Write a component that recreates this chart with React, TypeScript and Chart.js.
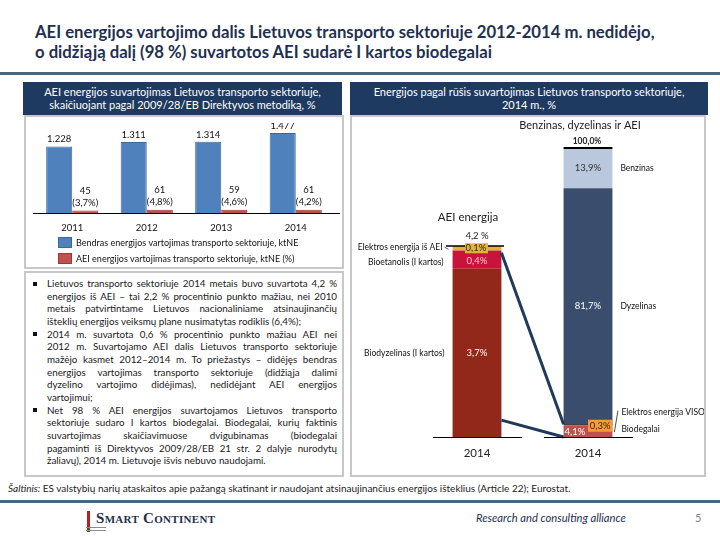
import React, { useEffect, useRef } from 'react';
import { Chart, registerables } from 'chart.js';

Chart.register(...registerables);

const FONT = 'Lato, "Open Sans", sans-serif';
const NAVY = '#1F3A60';
const TEXT_NAVY = '#1F3050';

// ---------- Left chart data ----------
const years = ['2011', '2012', '2013', '2014'];
const totalEnergy = [1228, 1311, 1314, 1477];
const aeiEnergy = [45, 61, 59, 61];
const aeiSharePct = [3.7, 4.8, 4.6, 4.2];
const leftLegend = [
  'Bendras energijos vartojimas transporto sektoriuje, ktNE',
  'AEI energijos vartojimas transporto sektoriuje, ktNE (%)',
];
const leftColors = ['#4F81BD', '#C0504D'];
const leftBorders = ['#3B6898', '#983B38'];

// ---------- Right chart data ----------
const rightCats = ['AEI energija', 'Benzinas, dyzelinas ir AEI'];
const rightYear = '2014';
const aeiParts = ['Biodyzelinas (I kartos)', 'Bioetanolis (I kartos)', 'Elektros energija iš AEI'];
const aeiValues = [3.7, 0.4, 0.1];
const aeiTotal = 4.2;
const aeiColors = ['#922819', '#C8143C', '#E2B33C'];
const mixParts = ['Biodegalai', 'Elektros energija VISO', 'Dyzelinas', 'Benzinas'];
const mixValues = [4.1, 0.3, 81.7, 13.9];
const mixTotal = 100.0;
const mixColors = ['#C0504D', '#111111', '#3A4D6C', '#B9C8DC'];
const connectorFrom = [4.05, 0.37]; // values on AEI axis
const connectorTo = [4.4, 0]; // values on mix axis

const fmt = (v: number, d = 1) => v.toFixed(d).replace('.', ',');
const fmtThousands = (v: number) => String(v).replace(/\B(?=(\d{3})+(?!\d))/g, '.');

const bulletParas: string[][] = [
  [
    'Lietuvos transporto sektoriuje 2014 metais buvo suvartota 4,2 %',
    'energijos iš AEI – tai 2,2 % procentinio punkto mažiau, nei 2010',
    'metais patvirtintame Lietuvos nacionaliniame atsinaujinančių',
    'išteklių energijos veiksmų plane nusimatytas rodiklis (6,4%);',
  ],
  [
    '2014 m. suvartota 0,6 % procentinio punkto  mažiau AEI nei',
    '2012 m. Suvartojamo AEI dalis Lietuvos transporto sektoriuje',
    'mažėjo kasmet 2012–2014 m. To priežastys – didėjęs bendras',
    'energijos vartojimas transporto sektoriuje (didžiąja dalimi',
    'dyzelino vartojimo didėjimas), nedidėjant AEI energijos',
    'vartojimui;',
  ],
  [
    'Net 98 % AEI energijos suvartojamos Lietuvos transporto',
    'sektoriuje sudaro I kartos biodegalai. Biodegalai, kurių faktinis',
    'suvartojimas skaičiavimuose dvigubinamas (biodegalai',
    'pagaminti iš Direktyvos 2009/28/EB 21 str. 2 dalyje nurodytų',
    'žaliavų), 2014 m. Lietuvoje išvis nebuvo naudojami.',
  ],
];

const leftPlugin = {
  id: 'leftDecor',
  afterDatasetsDraw(chart: any) {
    const { ctx, chartArea, scales } = chart;
    const xs = scales.x;
    const ys = scales.y;
    const base = Math.round(ys.getPixelForValue(0)) + 0.5;
    ctx.save();
    ctx.strokeStyle = '#000';
    ctx.lineWidth = 1;
    ctx.beginPath();
    ctx.moveTo(chartArea.left - 2, base);
    ctx.lineTo(chartArea.right + 7, base);
    ctx.stroke();

    ctx.fillStyle = '#111';
    ctx.textAlign = 'center';
    ctx.textBaseline = 'middle';
    ctx.font = `9.5px ${FONT}`;
    const m0 = chart.getDatasetMeta(0);
    const m1 = chart.getDatasetMeta(1);
    m0.data.forEach((bar: any, i: number) => {
      ctx.fillText(fmtThousands(totalEnergy[i]), bar.x, bar.y - 7);
    });
    m1.data.forEach((bar: any, i: number) => {
      ctx.fillText(String(aeiEnergy[i]), bar.x, bar.y - 20);
      ctx.fillText(`(${fmt(aeiSharePct[i])}%)`, bar.x, bar.y - 8);
    });
    years.forEach((yr, i) => {
      ctx.fillText(yr, xs.getPixelForValue(i), base + 14);
    });

    // legend
    ctx.textAlign = 'left';
    ctx.font = `9px ${FONT}`;
    leftLegend.forEach((txt, i) => {
      const top = 114 + i * 16;
      ctx.fillStyle = leftColors[i];
      ctx.fillRect(33, top, 14, 11);
      ctx.strokeStyle = leftBorders[i];
      ctx.strokeRect(33.5, top + 0.5, 13, 10);
      ctx.fillStyle = '#111';
      ctx.fillText(txt, 51, top + 6);
    });
    ctx.restore();
  },
};

const rightPlugin = {
  id: 'rightDecor',
  afterDatasetsDraw(chart: any) {
    const { ctx, scales } = chart;
    const yM = scales.y;
    const yA = scales.y2;
    const nA = aeiValues.length;
    const aBars = aeiValues.map((_, i) => chart.getDatasetMeta(i).data[0]);
    const mBars = mixValues.map((_, i) => chart.getDatasetMeta(nA + i).data[1]);
    const cxA = aBars[0].x;
    const wA = aBars[0].width;
    const cxM = mBars[0].x;
    const wM = mBars[0].width;
    const base = Math.round(yM.getPixelForValue(0)) + 0.5;
    const mid = (b: any) => (b.y + b.base) / 2;
    const topA = yA.getPixelForValue(aeiTotal);
    const topM = yM.getPixelForValue(mixTotal);

    ctx.save();
    // connectors
    ctx.strokeStyle = '#203A5C';
    ctx.lineWidth = 3;
    for (let k = 0; k < 2; k++) {
      ctx.beginPath();
      ctx.moveTo(cxA + wA / 2, yA.getPixelForValue(connectorFrom[k]));
      ctx.lineTo(cxM - wM / 2, yM.getPixelForValue(connectorTo[k]));
      ctx.stroke();
    }

    // baselines
    ctx.strokeStyle = '#000';
    ctx.lineWidth = 1;
    [cxA, cxM].forEach((cx) => {
      ctx.beginPath();
      ctx.moveTo(cx - 44, base);
      ctx.lineTo(cx + 45, base);
      ctx.stroke();
    });
    // top lines
    ctx.lineWidth = 1.5;
    ctx.beginPath();
    ctx.moveTo(cxA - 31, topA);
    ctx.lineTo(cxA + 27, topA);
    ctx.stroke();
    ctx.lineWidth = 2;
    ctx.beginPath();
    ctx.moveTo(cxM - wM / 2, topM);
    ctx.lineTo(cxM + wM / 2, topM);
    ctx.stroke();

    ctx.textBaseline = 'middle';
    ctx.textAlign = 'center';
    // year labels
    ctx.fillStyle = '#222';
    ctx.font = `11.5px ${FONT}`;
    ctx.fillText(rightYear, cxA, base + 16);
    ctx.fillText(rightYear, cxM, base + 16);

    // category titles
    ctx.font = `11.5px ${FONT}`;
    ctx.fillText(rightCats[0], cxA - 9, topA - 29);
    ctx.font = `11px ${FONT}`;
    ctx.fillText(rightCats[1], cxM - 8, topM - 23);
    ctx.font = `9.5px ${FONT}`;
    ctx.fillText(`${fmt(aeiTotal)} %`, cxA, topA - 10);
    ctx.font = `bold 8.5px ${FONT}`;
    ctx.fillText(`${fmt(mixTotal)}%`, cxM - 1, topM - 7);

    // AEI bar labels
    ctx.font = `9.5px ${FONT}`;
    const g = aBars[2];
    ctx.fillStyle = '#E2B33C';
    ctx.fillRect(cxA - 12, mid(g) - 5, 23, 10);
    ctx.fillStyle = '#3A2A10';
    ctx.fillText(`${fmt(aeiValues[2])}%`, cxA - 1, mid(g));
    ctx.fillStyle = '#F6C9D2';
    ctx.fillText(`${fmt(aeiValues[1])}%`, cxA, mid(aBars[1]) + 1);
    ctx.fillStyle = '#FFFFFF';
    ctx.fillText(`${fmt(aeiValues[0])}%`, cxA, mid(aBars[0]));

    // AEI side labels
    ctx.fillStyle = '#111';
    ctx.font = `8.5px ${FONT}`;
    ctx.textAlign = 'right';
    const lx = cxA - wA / 2 - 8;
    ctx.fillText(aeiParts[2], lx - 2, mid(g) - 1);
    ctx.fillText(aeiParts[1], lx - 1, mid(aBars[1]) + 3);
    ctx.fillText(aeiParts[0], lx, mid(aBars[0]));
    ctx.strokeStyle = '#333';
    ctx.lineWidth = 0.8;
    ctx.beginPath();
    ctx.moveTo(lx, mid(g) - 1);
    ctx.lineTo(lx + 4, mid(g) + 1);
    ctx.stroke();

    // mix bar labels
    ctx.textAlign = 'center';
    ctx.font = `9.5px ${FONT}`;
    ctx.fillStyle = '#333';
    ctx.fillText(`${fmt(mixValues[3])}%`, cxM, mid(mBars[3]));
    ctx.fillStyle = '#FFFFFF';
    ctx.fillText(`${fmt(mixValues[2])}%`, cxM, mid(mBars[2]));
    ctx.fillText(`${fmt(mixValues[0])}%`, cxM - 13, mid(mBars[0]) + 1);
    const e = mBars[1];
    ctx.fillStyle = '#F79A3A';
    ctx.fillRect(cxM, mid(e) - 5, wM / 2, 12);
    ctx.fillStyle = '#3A2A10';
    ctx.fillText(`${fmt(mixValues[1])}%`, cxM + wM / 4, mid(e) + 1.5);

    // mix side labels
    ctx.textAlign = 'left';
    ctx.fillStyle = '#111';
    ctx.font = `8.5px ${FONT}`;
    const rx = cxM + wM / 2 + 8;
    ctx.fillText(mixParts[3], rx, mid(mBars[3]));
    ctx.fillText(mixParts[2], rx, mid(mBars[2]));
    ctx.fillText(mixParts[1], rx + 1, mid(e) - 12);
    ctx.fillText(mixParts[0], rx + 1, mid(mBars[0]) - 2);
    ctx.strokeStyle = '#222';
    ctx.lineWidth = 0.8;
    ctx.beginPath();
    ctx.moveTo(rx - 6, mid(mBars[0]) + 1);
    ctx.lineTo(rx - 2.5, mid(e) - 14);
    ctx.stroke();
    ctx.restore();
  },
};

function LeftChart() {
  const ref = useRef<HTMLCanvasElement>(null);
  useEffect(() => {
    const chart = new Chart(ref.current as HTMLCanvasElement, {
      type: 'bar',
      data: {
        labels: years,
        datasets: [
          { label: leftLegend[0], data: totalEnergy, backgroundColor: leftColors[0], borderColor: leftBorders[0], borderWidth: 1 },
          { label: leftLegend[1], data: aeiEnergy, backgroundColor: leftColors[1], borderColor: leftBorders[1], borderWidth: 1 },
        ],
      },
      options: {
        responsive: false,
        animation: false,
        devicePixelRatio: 1,
        layout: { padding: { left: 10, right: 10, top: 0, bottom: 55 } },
        datasets: { bar: { categoryPercentage: 0.7, barPercentage: 1 } },
        scales: {
          x: { display: false },
          y: { display: false, min: 0, max: 1660 },
        },
        plugins: { legend: { display: false }, tooltip: { enabled: false } },
      } as any,
      plugins: [leftPlugin],
    });
    return () => chart.destroy();
  }, []);
  return (
    <canvas
      ref={ref}
      width={318}
      height={145}
      style={{ position: 'absolute', left: 25, top: 123, width: 318, height: 145 }}
    />
  );
}

function RightChart() {
  const ref = useRef<HTMLCanvasElement>(null);
  useEffect(() => {
    const chart = new Chart(ref.current as HTMLCanvasElement, {
      type: 'bar',
      data: {
        labels: rightCats,
        datasets: [
          ...aeiParts.map((p, i) => ({
            label: p,
            data: [aeiValues[i], null],
            backgroundColor: aeiColors[i],
            yAxisID: 'y2',
            stack: 's',
          })),
          ...mixParts.map((p, i) => ({
            label: p,
            data: [null, mixValues[i]],
            backgroundColor: mixColors[i],
            yAxisID: 'y',
            stack: 's',
          })),
        ],
      },
      options: {
        responsive: false,
        animation: false,
        devicePixelRatio: 1,
        layout: { padding: { left: 69.5, right: 60.5, top: 31, bottom: 38 } },
        datasets: { bar: { categoryPercentage: 0.44, barPercentage: 1, skipNull: true } },
        scales: {
          x: { display: false, stacked: true },
          y: { display: false, stacked: true, min: 0, max: 100 },
          y2: { display: false, stacked: true, min: 0, max: 6.355, position: 'right' },
        },
        plugins: { legend: { display: false }, tooltip: { enabled: false } },
      } as any,
      plugins: [rightPlugin],
    });
    return () => chart.destroy();
  }, []);
  return (
    <canvas
      ref={ref}
      width={352}
      height={358}
      style={{ position: 'absolute', left: 352, top: 117, width: 352, height: 358 }}
    />
  );
}

const abs = (s: React.CSSProperties): React.CSSProperties => ({ position: 'absolute', ...s });

function Bullets() {
  const LH = 12.67;
  let row = 0;
  const out: React.ReactNode[] = [];
  bulletParas.forEach((para, pi) => {
    para.forEach((line, li) => {
      const last = li === para.length - 1;
      const top = 277 + row * LH;
      if (li === 0) {
        out.push(<div key={`b${pi}`} style={abs({ left: 33, top: top + 4.5, width: 4, height: 4, background: '#111' })} />);
      }
      out.push(
        <div
          key={`l${pi}-${li}`}
          style={abs({
            left: 47,
            top,
            width: 290,
            height: LH,
            lineHeight: `${LH}px`,
            textAlign: last ? 'left' : 'justify',
            textAlignLast: last ? 'left' : 'justify',
            overflow: 'visible',
          } as React.CSSProperties)}
        >
          {line}
        </div>
      );
      row++;
    });
  });
  return (
    <div style={{ fontFamily: FONT, fontSize: 9.8, color: '#1a1a1a' }}>{out}</div>
  );
}

export default function App() {
  return (
    <div
      style={{
        position: 'absolute',
        left: 0,
        top: 0,
        width: 720,
        height: 540,
        background: '#fff',
        overflow: 'hidden',
        fontFamily: FONT,
      }}
    >
      {/* Title */}
      <div style={abs({ left: 35, top: 22, fontSize: 16.7, fontWeight: 700, color: TEXT_NAVY, lineHeight: '20px', whiteSpace: 'nowrap' })}>
        <div>AEI energijos vartojimo dalis Lietuvos transporto sektoriuje 2012-2014 m. nedidėjo,</div>
        <div>o didžiąją dalį (98 %) suvartotos AEI sudarė I kartos biodegalai</div>
      </div>
      <div style={abs({ left: 0, top: 72, width: 720, height: 3, background: '#4A657C' })} />

      {/* Left panel */}
      <div style={abs({ left: 24, top: 115, width: 316, height: 150, border: '2px solid #C8C8C8' })} />
      <div style={abs({ left: 23, top: 82, width: 319, height: 33, background: NAVY, color: '#fff', fontSize: 11, lineHeight: '12.5px', textAlign: 'center', paddingTop: 4, boxSizing: 'border-box', whiteSpace: 'nowrap' })}>
        <div>AEI energijos suvartojimas Lietuvos transporto sektoriuje,</div>
        <div>skaičiuojant pagal 2009/28/EB Direktyvos metodiką, %</div>
      </div>
      <LeftChart />
      <div style={abs({ left: 24, top: 271, width: 316, height: 202, border: '2px solid #C8C8C8' })} />
      <Bullets />

      {/* Right panel */}
      <div style={abs({ left: 350, top: 115, width: 352, height: 358, border: '2px solid #C8C8C8' })} />
      <div style={abs({ left: 350, top: 82, width: 358, height: 33, background: NAVY, color: '#fff', fontSize: 11, lineHeight: '12.5px', textAlign: 'center', paddingTop: 4, boxSizing: 'border-box', whiteSpace: 'nowrap' })}>
        <div>Energijos pagal rūšis suvartojimas Lietuvos transporto sektoriuje,</div>
        <div>2014 m., %</div>
      </div>
      <RightChart />

      {/* Source */}
      <div style={abs({ left: 8, top: 482, fontSize: 10, color: '#222', whiteSpace: 'nowrap', lineHeight: '12px' })}>
        <i>Šaltinis:</i> ES valstybių narių ataskaitos apie pažangą skatinant ir naudojant atsinaujinančius energijos išteklius (Article 22); Eurostat.
      </div>
      <div style={abs({ left: 0, top: 500, width: 720, height: 3, background: '#4A657C' })} />

      {/* Footer */}
      <div style={abs({ left: 87, top: 511, width: 3, height: 21, background: '#B22222' })} />
      <div style={abs({ left: 86, top: 527, width: 20, height: 1, background: '#8A8A8A' })} />
      <div style={abs({ left: 86, top: 530, width: 20, height: 1, background: '#8A8A8A' })} />
      <div style={abs({ left: 96, top: 509, fontFamily: '"Liberation Serif", "DejaVu Serif", serif', fontWeight: 700, fontVariant: 'small-caps', fontSize: 15, color: '#1F2F4A', whiteSpace: 'nowrap', lineHeight: '18px', letterSpacing: 0.3 })}>
        Smart Continent
      </div>
      <div style={abs({ left: 476, top: 511, fontStyle: 'italic', fontSize: 11.2, color: TEXT_NAVY, whiteSpace: 'nowrap', lineHeight: '14px' })}>
        Research and consulting alliance
      </div>
      <div style={abs({ left: 695, top: 511, fontSize: 11, color: '#7F7F7F', lineHeight: '14px' })}>5</div>
    </div>
  );
}
